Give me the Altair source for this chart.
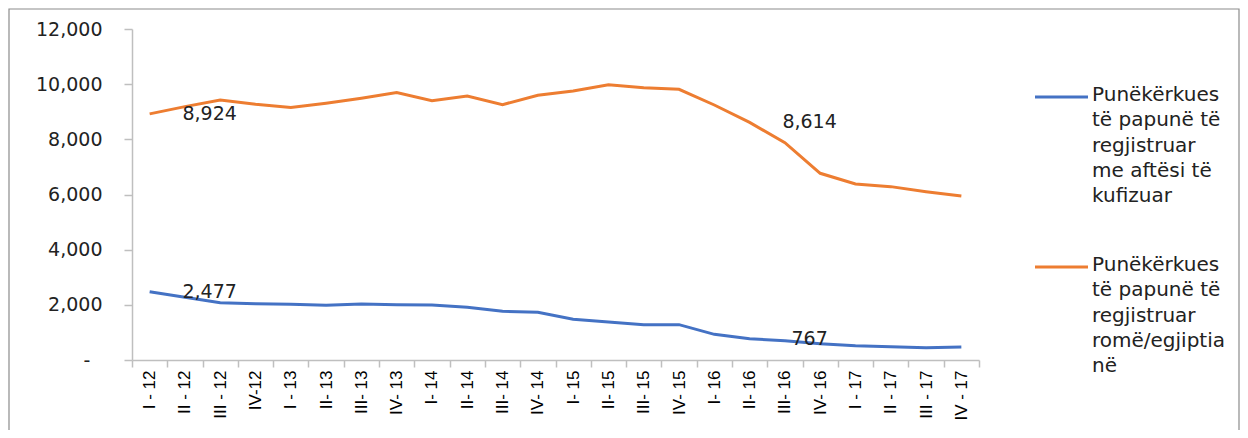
import altair as alt
import pandas as pd

quarters = ["I - 12", "II - 12", "III - 12", "IV-12",
            "I - 13", "II- 13", "III- 13", "IV- 13",
            "I- 14", "II- 14", "III- 14", "IV- 14",
            "I- 15", "II- 15", "III- 15", "IV- 15",
            "I- 16", "II- 16", "III- 16", "IV- 16",
            "I - 17", "II - 17", "III - 17", "IV - 17"]

series_names = ["Punëkërkues të papunë të regjistruar me aftësi të kufizuar",
                "Punëkërkues të papunë të regjistruar romë/egjiptianë"]
legend_text = ["Punëkërkues\ntë papunë të\nregjistruar\nme aftësi të\nkufizuar",
               "Punëkërkues\ntë papunë të\nregjistruar\nromë/egjiptia\nnë"]

disabled = [2477, 2273, 2078, 2042, 2018, 1982, 2030, 2006,
            1994, 1910, 1765, 1729, 1475, 1378, 1281, 1281,
            930, 767, 700, 592, 520, 483, 446, 471]
roma = [8924, 9185, 9427, 9270, 9150, 9307, 9487, 9693,
        9403, 9572, 9258, 9597, 9753, 9982, 9873, 9814,
        9245, 8614, 7880, 6769, 6381, 6285, 6103, 5946]

labelled = ["I - 12", "II- 16"]
colors = ["#4472C4", "#ED7D31"]

rows = []
for q, a, b in zip(quarters, disabled, roma):
    rows.append({"q": q, "series": series_names[0], "v": a})
    rows.append({"q": q, "series": series_names[1], "v": b})
df = pd.DataFrame(rows)

W, H = 847, 331
FONT = "DejaVu Sans"

x_enc = alt.X("q:N", sort=quarters, bandPosition=0.5,
              scale=alt.Scale(type="band", paddingInner=0, paddingOuter=0),
              axis=alt.Axis(title=None, labelAngle=-90, tickBand="extent",
                            tickSize=7, labelPadding=3, labelFont="Liberation Sans",
                            labelFontSize=17, labelColor="#000000",
                            domainColor="#BFBFBF", tickColor="#BFBFBF",
                            domainWidth=1.5, tickWidth=1.5, grid=False))
y_enc = alt.Y("v:Q", scale=alt.Scale(domain=[0, 12000], nice=False),
              axis=alt.Axis(title=None, values=list(range(0, 12001, 2000)),
                            labelExpr="datum.value == 0 ? '-\u00a0\u00a0\u200b' : format(datum.value, ',')",
                            tickSize=8, labelPadding=22, labelFont=FONT,
                            labelFontSize=19, labelColor="#222222",
                            domainColor="#BFBFBF", tickColor="#BFBFBF",
                            domainWidth=1.5, tickWidth=1.5, grid=False))
color_enc = alt.Color("series:N", scale=alt.Scale(domain=series_names, range=colors), legend=None)

base = alt.Chart(df)
lines = base.mark_line(strokeWidth=3, clip=False).encode(x=x_enc, y=y_enc, color=color_enc)
labels = base.transform_filter(
    alt.FieldOneOfPredicate(field="q", oneOf=labelled)
).mark_text(dx=60, align="center", baseline="middle", font=FONT, fontSize=19,
            color="#222222").encode(
    x=alt.X("q:N", sort=quarters, bandPosition=0.5),
    y="v:Q",
    text=alt.Text("v:Q", format=",.0f"))

frame = alt.Chart(alt.Data(values=[{"a": 1}])).mark_rect(
    fill="white", fillOpacity=0, stroke="#8C8C8C", strokeWidth=1.2, clip=False
).encode(x=alt.value(-123), x2=alt.value(1107), y=alt.value(-20), y2=alt.value(420))

layers = [frame, lines, labels]
for i, (name, txt, col) in enumerate(zip(series_names, legend_text, colors)):
    ly = 68 + i * 170
    leg_rule = alt.Chart(alt.Data(values=[{"a": 1}])).mark_rule(
        color=col, strokeWidth=3, clip=False
    ).encode(x=alt.value(903), x2=alt.value(956), y=alt.value(ly))
    leg_text = alt.Chart(alt.Data(values=[{"t": txt}])).mark_text(
        align="left", baseline="top", font=FONT, fontSize=20, color="#222222",
        lineBreak="\n", lineHeight=25.3, clip=False
    ).encode(x=alt.value(960), y=alt.value(ly - 12), text="t:N")
    layers += [leg_rule, leg_text]

chart = alt.layer(*layers).properties(
    width=W, height=H,
    autosize=alt.AutoSizeParams(type="none"),
    padding={"left": 124, "top": 21, "right": 261, "bottom": 70},
    background="white"
).configure_view(stroke=None)

chart.save("out.html", embed_options={"renderer": "svg", "actions": False})
